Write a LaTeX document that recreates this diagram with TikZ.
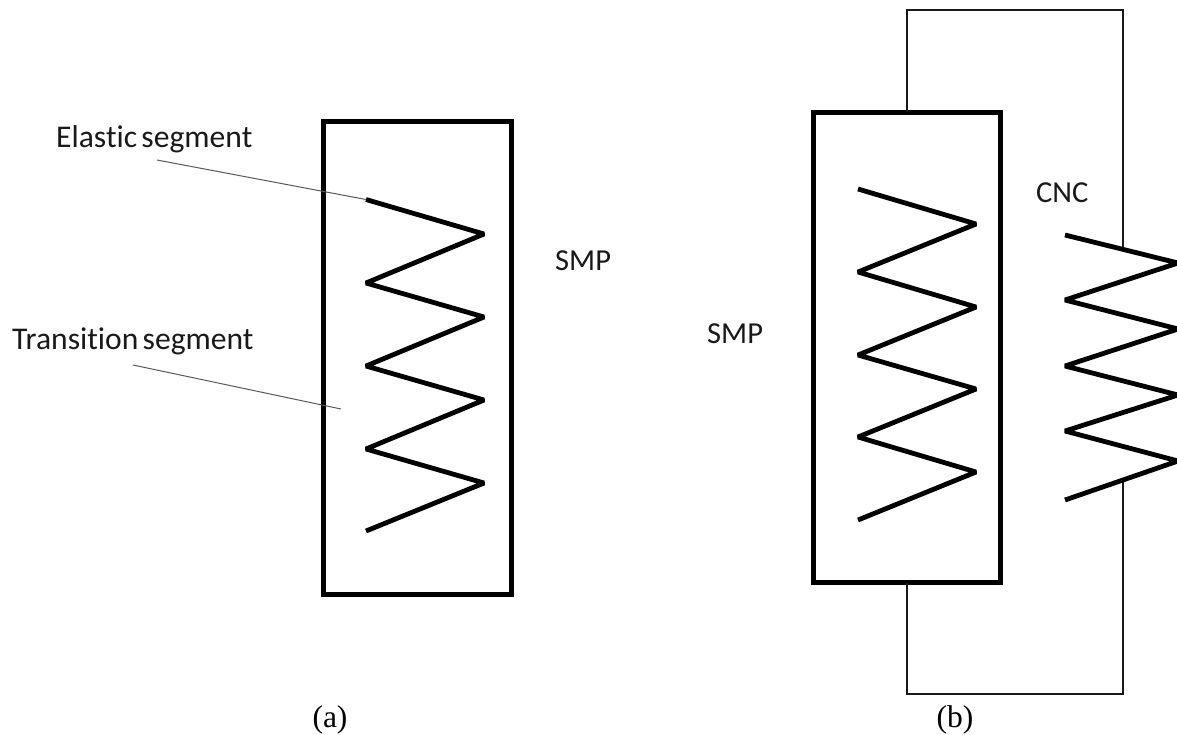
\documentclass[tikz,border=0pt]{standalone}
\usepackage{fontspec}
\setmainfont[Ligatures=NoCommon,WordSpace=0.6]{Carlito}
\newfontfamily\capfont{Liberation Serif}
\tikzset{
  boxnode/.style={draw=black,line width=5pt,minimum width=188pt,minimum height=473pt,inner sep=0pt,outer sep=0pt},
  springline/.style={line width=4.8pt,line join=bevel},
  wire/.style={line width=2pt,draw=black!90,line join=miter},
  leader/.style={line width=1pt,draw=black!65},
  lab/.style={font=\fontsize{30.5}{36}\selectfont,text=black!90,inner sep=0pt,anchor=base west},
  seglab/.style={lab,font=\fontsize{31.6}{36}\selectfont},
  captext/.style={font=\capfont\fontsize{31.5}{36}\selectfont,text=black,inner sep=0pt,anchor=base}
}
\begin{document}
\begin{tikzpicture}[x=1pt,y=-1pt]
\useasboundingbox (0,0) rectangle (1177,734);
\fill[white] (0,0) rectangle (1177,734);
% (a)
\node[boxnode] (boxa) at (417.5,358) {};
\coordinate (sa) at (366,199.5);
\coordinate (ta) at (341,409);
\draw[springline] (sa) -- (484,234) -- (366,283) -- (484,317) -- (366,366) -- (484,400) -- (366,449) -- (484,483) -- (366,531);
\node[seglab] (elastic) at (56,147) {Elastic segment};
\node[seglab] (trans) at (12,349) {Transition segment};
\coordinate (ea) at (157,160);
\coordinate (tb) at (133,365);
\draw[leader] (ea) -- (sa);
\draw[leader] (tb) -- (ta);
\node[lab] (smpa) at (555,270) {SMP};
\node[captext] (capa) at (330,727) {(a)};
% (b)
\node[boxnode,minimum width=187.5pt,minimum height=470.5pt] (boxb) at (907,347.5) {};
\draw[springline] (858,189) -- (976,224) -- (858,272) -- (976,307) -- (858,355) -- (976,389) -- (858,437) -- (976,472) -- (858,520);
\coordinate (wtop) at (1122.5,248);
\coordinate (wbot) at (1122.5,482);
\coordinate (tl) at (907,10);
\coordinate (tr) at (1122.5,10);
\coordinate (bl) at (907,694);
\coordinate (br) at (1122.5,694);
\draw[wire] (boxb.north) -- (tl) -- (tr) -- (wtop);
\draw[wire] (boxb.south) -- (bl) -- (br) -- (wbot);
\draw[springline] (1065,235) -- (1178,263) -- (1065,300) -- (1178,329) -- (1065,366) -- (1178,395) -- (1065,431) -- (1178,461) -- (1065,500);
\node[lab] (smpb) at (707,343) {SMP};
\node[lab] (cnc) at (1036,202) {CNC};
\node[captext] (capb) at (955,727) {(b)};
\end{tikzpicture}
\end{document}
